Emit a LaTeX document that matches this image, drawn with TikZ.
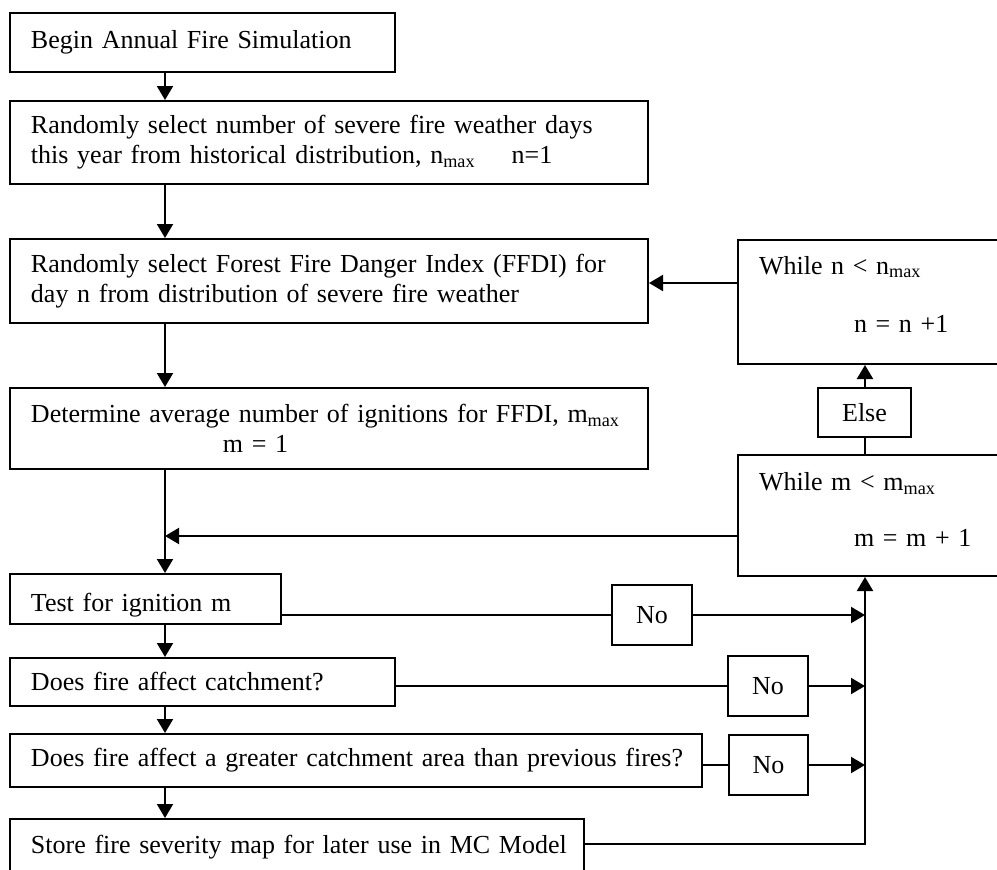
\documentclass[tikz,border=0pt]{standalone}
\usepackage{fontspec}
\setmainfont[WordSpace=0.9]{Liberation Serif}
\usetikzlibrary{arrows.meta}

\tikzset{
  box/.style={draw, line width=1pt, anchor=north west, inner xsep=10.5pt, inner ysep=0pt, align=left},
  nobox/.style={draw, line width=1pt, anchor=north west, inner sep=0pt, minimum width=40pt, minimum height=30pt},
  flow/.style={line width=1pt, -{Triangle[length=7pt,width=8pt]}},
  link/.style={line width=1pt},
}

\begin{document}
\begin{tikzpicture}[x=0.5pt, y=-0.5pt, font=\fontsize{13}{15}\selectfont]
\useasboundingbox (0,0) rectangle (997,869);

% main column
\node[box, text width=171.5pt, minimum height=29.5pt] (begin) at (9,12) {\mbox{Begin Annual Fire Simulation}};
\node[box, text width=298pt, minimum height=41.5pt] (ndays) at (9,100)
  {\mbox{Randomly select number of severe fire weather days}\\
   \mbox{this year from historical distribution, n\textsubscript{max}\hspace{18pt}n=1}};
\node[box, text width=298pt, minimum height=42pt] (ffdi) at (9,238)
  {\mbox{Randomly select Forest Fire Danger Index (FFDI) for}\\
   \mbox{day n from distribution of severe fire weather}};
\node[box, text width=298pt, minimum height=40.5pt] (ignit) at (9,387)
  {\mbox{Determine average number of ignitions for FFDI, m\textsubscript{max}}\\
   \hspace*{96pt}m = 1};
\node[box, text width=114.5pt, minimum height=25pt, text height=15pt, text depth=3pt] (test) at (9,573) {\mbox{Test for ignition m}};
\node[box, text width=171.5pt, minimum height=24pt] (affect) at (9,657) {\mbox{Does fire affect catchment?}};
\node[box, text width=325pt, minimum height=26.5pt] (greater) at (9,733) {\mbox{Does fire affect a greater catchment area than previous fires?}};
\node[box, text width=266pt, minimum height=28pt] (store) at (9,818) {\mbox{Store fire severity map for later use in MC Model}};

% loop boxes on the right
\node[box, text width=110pt, minimum height=62pt] (wn) at (737,239)
  {While n < n\textsubscript{max}\\[14pt]\hspace*{47.5pt}n = n +1\\[-7pt]\mbox{}};
\node[draw, line width=1pt, anchor=north west, inner sep=0pt, minimum width=46.5pt, minimum height=24.5pt] (elsebox) at (817,387) {Else};
\node[box, text width=110pt, minimum height=60.5pt] (wm) at (737,454)
  {While m < m\textsubscript{max}\\[13pt]\hspace*{47.5pt}m = m + 1\\[-9pt]\mbox{}};

\node[nobox] (no1) at (611,584) {No};
\node[nobox] (no2) at (727,655) {No};
\node[nobox, minimum width=39.5pt] (no3) at (728,734) {No};

\coordinate (spine) at (165,0);
\coordinate (rail) at (865,0);
\coordinate (nback) at (0,283);
\coordinate (mjoin) at (165,536);

% down the main column
\draw[flow] (begin.south -| spine) -- (ndays.north -| spine);
\draw[flow] (ndays.south -| spine) -- (ffdi.north -| spine);
\draw[flow] (ffdi.south -| spine) -- (ignit.north -| spine);
\draw[flow] (ignit.south -| spine) -- (test.north -| spine);
\draw[flow] (test.south -| spine) -- (affect.north -| spine);
\draw[flow] (affect.south -| spine) -- (greater.north -| spine);
\draw[flow] (greater.south -| spine) -- (store.north -| spine);

% loops back
\draw[flow] (wn.west |- nback) -- (ffdi.east |- nback);
\draw[flow] (wm.west |- mjoin) -- (mjoin);
\draw[link] (wm.north -| rail) -- (elsebox.south -| rail);
\draw[flow] (elsebox.north -| rail) -- (wn.south -| rail);

% the No branches
\draw[link] (test.east |- no1) -- (no1.west);
\draw[flow] (no1.east) -- (no1.east -| rail);
\draw[link] (affect.east |- no2) -- (no2.west);
\draw[flow] (no2.east) -- (no2.east -| rail);
\draw[link] (greater.east |- no3) -- (no3.west);
\draw[flow] (no3.east) -- (no3.east -| rail);
\draw[flow] ([yshift=1.5pt]store.east) -| (wm.south -| rail);
\end{tikzpicture}
\end{document}
